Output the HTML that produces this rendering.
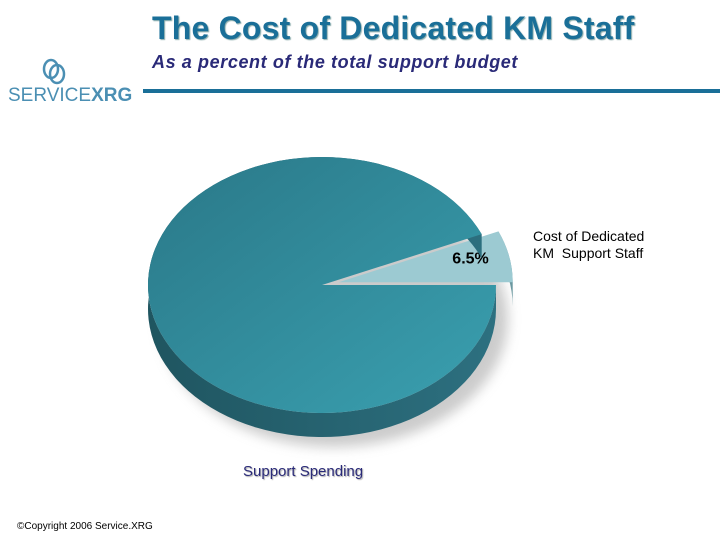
<!DOCTYPE html>
<html><head><meta charset="utf-8">
<style>
body{margin:0;width:720px;height:540px;background:#fff;overflow:hidden;font-family:"Liberation Sans",Arial,sans-serif;position:relative}
.abs{position:absolute}
</style></head>
<body>
<div class="abs" style="left:152px;top:10px;font-size:32px;font-weight:bold;color:#1a6f98;text-shadow:1px 1px 1px #8aa;letter-spacing:0.2px;white-space:nowrap">The Cost of Dedicated KM Staff</div>
<div class="abs" style="left:152px;top:52px;font-size:18px;font-weight:bold;font-style:italic;color:#2a2a78;letter-spacing:0.6px;white-space:nowrap">As a percent of the total support budget</div>
<div class="abs" style="left:8px;top:56px;width:135px;height:50px">
  <svg width="130" height="50"><ellipse cx="43" cy="13" rx="7" ry="9" fill="none" stroke="#4b8fb3" stroke-width="2.5"/><ellipse cx="49" cy="18" rx="7" ry="9" fill="none" stroke="#4b8fb3" stroke-width="2.5"/></svg>
  <div class="abs" style="left:0;top:29px;font-size:19px;color:#4b8fb3;white-space:nowrap">SERVICE<b>XRG</b></div>
</div>
<div class="abs" style="left:143px;top:89px;width:577px;height:4px;background:#1a6f98"></div>

<svg class="abs" style="left:0;top:0" width="720" height="540" id="pie">
<defs>
<linearGradient id="g1" x1="0" y1="0" x2="1" y2="1"><stop offset="0" stop-color="#2a7888"/><stop offset="1" stop-color="#3aa0b0"/></linearGradient>
<linearGradient id="g2" x1="0" y1="0" x2="1" y2="0"><stop offset="0" stop-color="#1f5560"/><stop offset="1" stop-color="#2d7080"/></linearGradient>
<filter id="sh" x="-20%" y="-20%" width="140%" height="140%"><feGaussianBlur stdDeviation="6"/></filter>
</defs>
</svg>
<div class="abs" style="left:533px;top:228px;font-size:14px;color:#000;line-height:17px;white-space:nowrap">Cost of Dedicated<br>KM&nbsp; Support Staff</div>
<div class="abs" style="left:243px;top:463px;font-size:15px;color:#2a2a78;text-shadow:1px 1px 1px #aaa">Support Spending</div>
<div class="abs" style="left:17px;top:521px;font-size:10px;color:#000">©Copyright 2006 Service.XRG</div>

<script>
const categories=["Support Spending","Cost of Dedicated KM Support Staff"];
const values=[93.5,6.5];
const printed=["","6.5%"];
const svg=document.getElementById('pie');
const NS="http://www.w3.org/2000/svg";
const cx=322,cy=285,rx=174,ry=128,depth=24;
const total=values.reduce((a,b)=>a+b,0);
function pt(a,ox,oy,dy){return [cx+ox+rx*Math.cos(a),cy+oy+(dy||0)-ry*Math.sin(a)];}
const shd=document.createElementNS(NS,'ellipse');
shd.setAttribute('cx',cx+12);shd.setAttribute('cy',cy+depth+10);shd.setAttribute('rx',rx);shd.setAttribute('ry',ry);shd.setAttribute('fill','#999');shd.setAttribute('filter','url(#sh)');shd.setAttribute('opacity','0.5');


svg.appendChild(shd);
let start=0;
const sl=[];
for(let i=values.length-1;i>=0;i--){
  const sweep=values[i]/total*2*Math.PI;
  sl.push({i,a0:start,a1:start+sweep});start+=sweep;
}
sl.forEach(s=>{
  const exploded=s.i===1;
  const mid=(s.a0+s.a1)/2;
  const ox=exploded?14*Math.cos(mid)+3:0, oy=exploded?-4*Math.sin(mid)-2:0;
  const large=(s.a1-s.a0)>Math.PI?1:0;
  const p0=pt(s.a0,ox,oy),p1=pt(s.a1,ox,oy);
  const side=document.createElementNS(NS,'path');
  const b0=pt(s.a0,ox,oy,depth),b1=pt(s.a1,ox,oy,depth);
  side.setAttribute('d',`M${p0[0]},${p0[1]} L${b0[0]},${b0[1]} A${rx},${ry} 0 ${large} 0 ${b1[0]},${b1[1]} L${p1[0]},${p1[1]} A${rx},${ry} 0 ${large} 1 ${p0[0]},${p0[1]}Z`);
  side.setAttribute('fill',exploded?'#6b98a0':'url(#g2)');
  
  
  svg.appendChild(side);
  const top=document.createElementNS(NS,'path');
  const c=[cx+ox,cy+oy];
  top.setAttribute('d',`M${c[0]},${c[1]} L${p0[0]},${p0[1]} A${rx},${ry} 0 ${large} 0 ${p1[0]},${p1[1]} Z`);
  top.setAttribute('fill',exploded?'#9ccad2':'url(#g1)');
  
  
  svg.appendChild(top);
  if(printed[s.i]){
    const t=document.createElementNS(NS,'text');
    const lp=[cx+ox+rx*0.85*Math.cos(mid),cy+oy-ry*0.6*Math.sin(mid)];
    t.setAttribute('x',lp[0]-13);t.setAttribute('y',lp[1]-3);t.setAttribute('text-anchor','middle');
    t.setAttribute('font-family','Liberation Sans, Arial, sans-serif');t.setAttribute('font-size','16');t.setAttribute('font-weight','bold');
    t.textContent=printed[s.i];
    
    
    svg.appendChild(t);
  }
});
</script>
</body></html>
